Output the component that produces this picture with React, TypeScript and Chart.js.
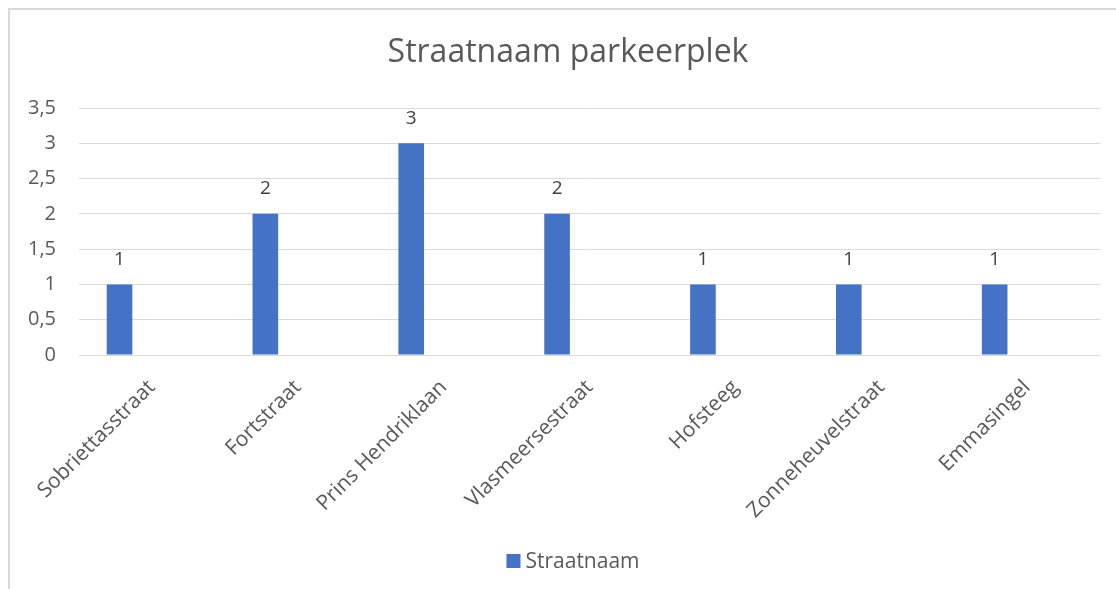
import React, { useEffect, useRef } from "react";
import { Chart, registerables } from "chart.js";

Chart.register(...registerables);

const categories = [
  "Sobriettasstraat",
  "Fortstraat",
  "Prins Hendriklaan",
  "Vlasmeersestraat",
  "Hofsteeg",
  "Zonneheuvelstraat",
  "Emmasingel",
];
const straatnaam = [1, 2, 3, 2, 1, 1, 1];
const emptySeries = [null, null, null, null, null, null, null];
const yTicks = [0, 0.5, 1, 1.5, 2, 2.5, 3, 3.5];
const chartTitle = "Straatnaam parkeerplek";
const seriesName = "Straatnaam";

const FONT = "'Open Sans', sans-serif";
const TEXT = "#595959";
const BAR = "#4472C4";

export default function App() {
  const ref = useRef<HTMLCanvasElement>(null);
  useEffect(() => {
    if (!ref.current) return;
    const decorations = {
      id: "decorations",
      afterDatasetsDraw(chart: any) {
        const ctx = chart.ctx;
        const meta = chart.getDatasetMeta(0);
        ctx.save();
        // value labels
        ctx.font = `19px ${FONT}`;
        ctx.fillStyle = "#404040";
        ctx.textAlign = "center";
        ctx.textBaseline = "middle";
        meta.data.forEach((bar: any, i: number) => {
          const v = straatnaam[i];
          ctx.fillText(String(v).replace(".", ","), bar.x, bar.y - 25);
        });
        // title (centred over the whole chart frame)
        const frameCenter = chart.width / 2 + 10;
        ctx.font = `32px ${FONT}`;
        ctx.fillStyle = TEXT;
        ctx.textAlign = "center";
        ctx.fillText(chartTitle, frameCenter, 53);
        // legend
        ctx.font = `21px ${FONT}`;
        const tw = ctx.measureText(seriesName).width;
        const box = 14;
        const gap = 5;
        const total = box + gap + tw;
        const lx = frameCenter + 5 - total / 2;
        const ly = 561;
        ctx.fillStyle = BAR;
        ctx.fillRect(lx, ly - box / 2, box, box);
        ctx.fillStyle = TEXT;
        ctx.textAlign = "left";
        ctx.fillText(seriesName, lx + box + gap, ly + 1);
        ctx.restore();
      },
    };
    const chart = new Chart(ref.current, {
      type: "bar",
      data: {
        labels: categories,
        datasets: [
          {
            label: seriesName,
            data: straatnaam,
            backgroundColor: BAR,
            categoryPercentage: 0.889,
            barPercentage: 0.395,
          },
          {
            label: "",
            data: emptySeries as any,
            backgroundColor: "rgba(0,0,0,0)",
            categoryPercentage: 0.889,
            barPercentage: 0.395,
          },
        ],
      },
      options: {
        responsive: false,
        animation: false,
        layout: { padding: { left: 0, right: 16, top: 108, bottom: 46 } },
        plugins: {
          title: { display: false },
          legend: { display: false },
          tooltip: { enabled: false },
        },
        scales: {
          x: {
            grid: { display: false, drawTicks: false },
            border: { display: false },
            ticks: {
              color: TEXT,
              font: { family: FONT, size: 21 },
              minRotation: 45,
              maxRotation: 45,
              autoSkip: false,
              padding: 20,
            },
            afterFit: (s: any) => {
              s.height = 188;
            },
          },
          y: {
            min: 0,
            max: 3.5,
            afterBuildTicks: (s: any) => {
              s.ticks = yTicks.map((v) => ({ value: v }));
            },
            ticks: {
              color: TEXT,
              font: { family: FONT, size: 20 },
              padding: 23,
              callback: (v: any) => String(v).replace(".", ","),
            },
            grid: { color: "#d9d9d9", drawTicks: false, lineWidth: 1 },
            border: { display: false },
            afterFit: (s: any) => {
              s.width = 79;
            },
          },
        },
      },
      plugins: [decorations],
    });
    return () => chart.destroy();
  }, []);

  return (
    <div style={{ position: "fixed", left: 0, top: 0, width: 1116, height: 589, overflow: "hidden", background: "#fff" }}>
      <div
        style={{
          position: "absolute",
          left: 8,
          top: 8,
          width: 1200,
          height: 700,
          border: "2px solid #d9d9d9",
        }}
      />
      <canvas ref={ref} width={1116} height={589} style={{ position: "absolute", left: 0, top: 0 }} />
    </div>
  );
}
